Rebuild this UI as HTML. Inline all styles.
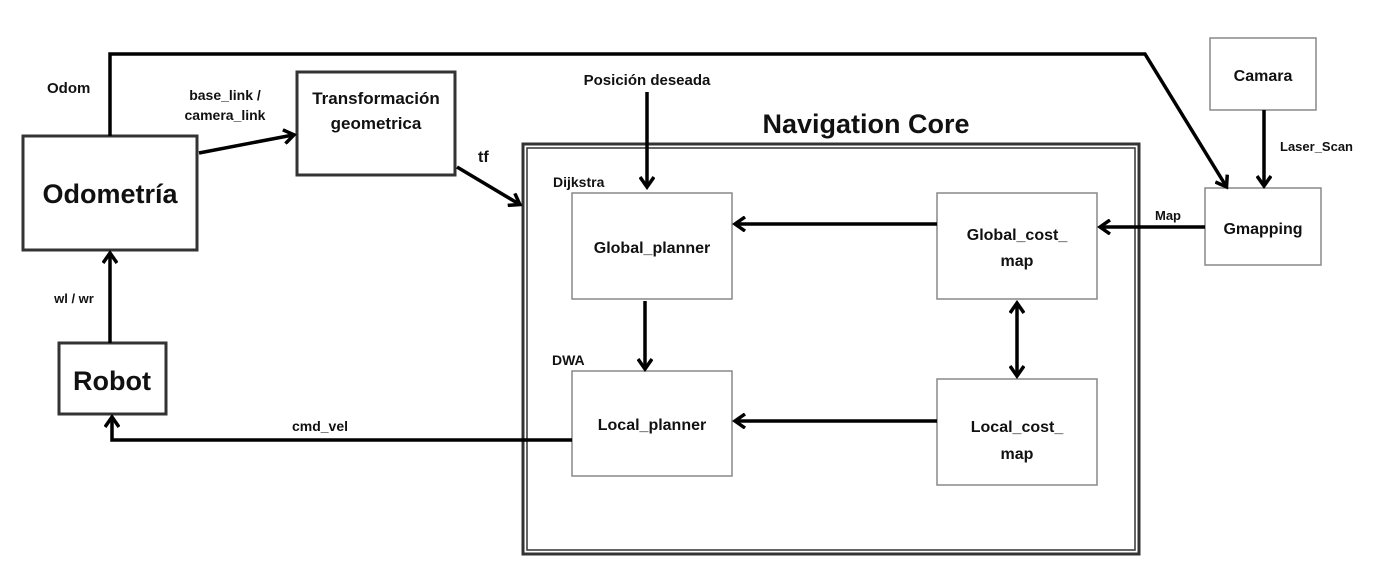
<!DOCTYPE html>
<html><head><meta charset="utf-8"><style>
html,body{margin:0;padding:0;background:#fff}
svg{display:block}
text{font-family:"Liberation Sans","DejaVu Sans",sans-serif;font-weight:bold;fill:#111}
</style></head><body>
<svg width="1382" height="562" viewBox="0 0 1382 562" xmlns="http://www.w3.org/2000/svg">
<defs>
<marker id="a" markerWidth="14" markerHeight="16" refX="10" refY="8" orient="auto" markerUnits="userSpaceOnUse">
<path d="M1,1 L11,8 L1,15" fill="none" stroke="#000" stroke-width="3.5"/>
</marker>
<marker id="as" markerWidth="14" markerHeight="16" refX="3" refY="8" orient="auto" markerUnits="userSpaceOnUse">
<path d="M13,1 L3,8 L13,15" fill="none" stroke="#000" stroke-width="3.5"/>
</marker>
</defs>
<g fill="#fff" stroke="#333">
<rect x="23" y="136" width="174" height="114" stroke-width="3"/>
<rect x="297" y="72" width="158" height="103" stroke-width="3"/>
<rect x="59" y="343" width="107" height="71" stroke-width="3"/>
<rect x="523" y="144" width="616" height="410" stroke-width="3"/>
<rect x="527" y="148" width="608" height="402" stroke-width="1.5"/>
<rect x="572" y="193" width="160" height="106" stroke="#888" stroke-width="1.5"/>
<rect x="572" y="371" width="160" height="105" stroke="#888" stroke-width="1.5"/>
<rect x="937" y="193" width="160" height="106" stroke="#888" stroke-width="1.5"/>
<rect x="937" y="379" width="160" height="106" stroke="#888" stroke-width="1.5"/>
<rect x="1205" y="188" width="116" height="77" stroke="#888" stroke-width="1.5"/>
<rect x="1210" y="38" width="106" height="72" stroke="#888" stroke-width="1.5"/>
</g>
<g fill="none" stroke="#000" stroke-width="3.5">
<path d="M110,136 V54 H1145 L1226,186" marker-end="url(#a)"/>
<path d="M199,153 L293,135" marker-end="url(#a)"/>
<path d="M457,167 L519,204" marker-end="url(#a)"/>
<path d="M647,92 V186" marker-end="url(#a)"/>
<path d="M937,224 H736" marker-end="url(#a)"/>
<path d="M1205,227 H1101" marker-end="url(#a)"/>
<path d="M645,301 V368" marker-end="url(#a)"/>
<path d="M1017,303 V375" marker-end="url(#a)" marker-start="url(#as)"/>
<path d="M937,421 H736" marker-end="url(#a)"/>
<path d="M572,440 H112 V418" marker-end="url(#a)"/>
<path d="M110,343 V254" marker-end="url(#a)"/>
<path d="M1264,110 V185" marker-end="url(#a)"/>
</g>
<text x="47" y="93" font-size="15">Odom</text>
<text x="225" y="100" font-size="14" text-anchor="middle">base_link /</text>
<text x="225" y="120" font-size="14" text-anchor="middle">camera_link</text>
<text x="376" y="104" font-size="17" text-anchor="middle">Transformación</text>
<text x="376" y="129" font-size="17" text-anchor="middle">geometrica</text>
<text x="110" y="203" font-size="27" text-anchor="middle">Odometría</text>
<text x="478" y="162" font-size="16">tf</text>
<text x="647" y="85" font-size="15" text-anchor="middle">Posición deseada</text>
<text x="866" y="133" font-size="27" text-anchor="middle">Navigation Core</text>
<text x="553" y="187" font-size="14">Dijkstra</text>
<text x="652" y="253" font-size="16" text-anchor="middle">Global_planner</text>
<text x="552" y="365" font-size="14">DWA</text>
<text x="652" y="430" font-size="16" text-anchor="middle">Local_planner</text>
<text x="1017" y="240" font-size="16" text-anchor="middle">Global_cost_</text>
<text x="1017" y="266" font-size="16" text-anchor="middle">map</text>
<text x="1017" y="432" font-size="16" text-anchor="middle">Local_cost_</text>
<text x="1017" y="459" font-size="16" text-anchor="middle">map</text>
<text x="1168" y="220" font-size="13" text-anchor="middle">Map</text>
<text x="1263" y="234" font-size="16" text-anchor="middle">Gmapping</text>
<text x="1263" y="81" font-size="16" text-anchor="middle">Camara</text>
<text x="1280" y="151" font-size="13">Laser_Scan</text>
<text x="74" y="303" font-size="13" text-anchor="middle">wl / wr</text>
<text x="112" y="390" font-size="27" text-anchor="middle">Robot</text>
<text x="320" y="431" font-size="14" text-anchor="middle">cmd_vel</text>
</svg>
</body></html>
